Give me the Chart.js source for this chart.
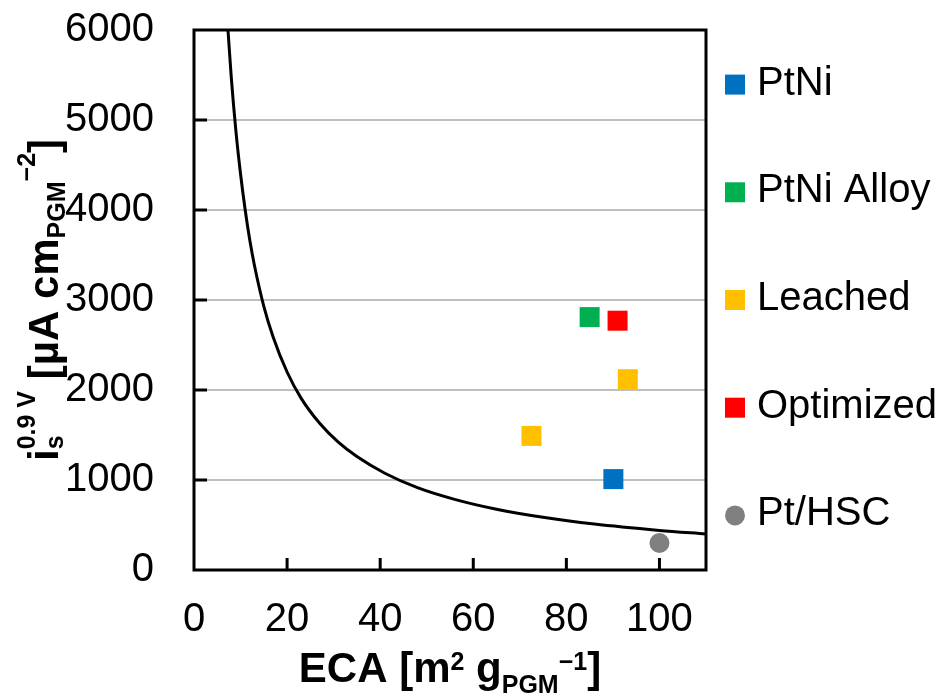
<!DOCTYPE html>
<html>
<head>
<meta charset="utf-8">
<script src="https://cdn.jsdelivr.net/npm/chart.js@4/dist/chart.umd.min.js"></script>
<style>
  html, body { margin: 0; padding: 0; background: #fff; }
</style>
</head>
<body>
<canvas id="grafico" width="949" height="693"></canvas>
<script>
// curva di riferimento
const curvaEca = [7.3, 8, 9, 10, 11, 12, 13, 15, 17, 20, 23, 27, 31, 35, 41, 48, 56, 65, 75, 86, 100, 110];
const curvaAttivita = [6000, 5480, 4880, 4400, 4000, 3660, 3380, 2930, 2590, 2200, 1910, 1630, 1420, 1260, 1075, 915, 785, 675, 585, 510, 440, 400];

// serie di punti
const serieNomi = ['PtNi', 'PtNi Alloy', 'Leached', 'Optimized', 'Pt/HSC'];
const serieColori = ['#0070C0', '#00B050', '#FFC000', '#FF0000', '#808080'];
const serieForme = ['rect', 'rect', 'rect', 'rect', 'circle'];
const ecaPtNi = [90.1];
const attPtNi = [1010];
const ecaAlloy = [85.0];
const attAlloy = [2810];
const ecaLeached = [72.5, 93.2];
const attLeached = [1490, 2120];
const ecaOptimized = [91.0];
const attOptimized = [2770];
const ecaPtHsc = [100];
const attPtHsc = [300];

const ticksX = [0, 20, 40, 60, 80, 100];
const ticksY = [0, 1000, 2000, 3000, 4000, 5000, 6000];

const serieEca = [ecaPtNi, ecaAlloy, ecaLeached, ecaOptimized, ecaPtHsc];
const serieAtt = [attPtNi, attAlloy, attLeached, attOptimized, attPtHsc];

const FONT = '"Liberation Sans", Arial, sans-serif';

function punti(xs, ys) {
    return xs.map((v, i) => ({ x: v, y: ys[i] }));
}

// testo con pedici e apici: [testo, dimensione, spostamento, nonAvanzare]
function scriviRicco(ctx, pezzi, cx, cy) {
    let totale = 0;
    pezzi.forEach(p => {
        ctx.font = 'bold ' + p[1] + 'px ' + FONT;
        if (!p[3]) totale += ctx.measureText(p[0]).width;
    });
    let x = cx - totale / 2;
    ctx.textAlign = 'left';
    ctx.textBaseline = 'alphabetic';
    pezzi.forEach(p => {
        ctx.font = 'bold ' + p[1] + 'px ' + FONT;
        ctx.fillText(p[0], x, cy + p[2]);
        if (!p[3]) x += ctx.measureText(p[0]).width;
    });
}

const cornice = {
    id: 'cornice',
    afterDatasetsDraw(chart) {
        const { ctx, chartArea: a, scales: { x, y } } = chart;
        ctx.save();
        ctx.strokeStyle = '#000';
        ctx.lineWidth = 3;
        ctx.beginPath();
        ticksX.forEach(v => {
            if (v <= 0) return;
            const px = x.getPixelForValue(v);
            ctx.moveTo(px, a.bottom);
            ctx.lineTo(px, a.bottom - 12);
        });
        ticksY.forEach(v => {
            if (v <= 0 || v >= 6000) return;
            const py = y.getPixelForValue(v);
            ctx.moveTo(a.left, py);
            ctx.lineTo(a.left + 13, py);
        });
        ctx.stroke();
        ctx.strokeRect(a.left, a.top, a.right - a.left, a.bottom - a.top);
        ctx.restore();
    },
    afterDraw(chart) {
        const { ctx, chartArea: a } = chart;
        ctx.save();
        ctx.fillStyle = '#000';

        // titolo asse x
        scriviRicco(ctx, [
            ['ECA [m', 42, 0], ['2', 25, -12], [' g', 42, 0],
            ['PGM', 25, 11], ['\u22121', 25, -12], [']', 42, 0]
        ], (a.left + a.right) / 2, 682);

        // titolo asse y
        ctx.translate(58, (a.top + a.bottom) / 2);
        ctx.rotate(-Math.PI / 2);
        scriviRicco(ctx, [
            ['i', 42, 0], ['s', 25, 5, true], ['0.9 V', 25, -23], [' [\u00b5A cm', 42, 0],
            ['PGM', 25, 7], ['\u22122', 25, -23], [']', 42, 0]
        ], 0, 0);
        ctx.restore();

        // legenda
        ctx.save();
        const centro = (a.top + a.bottom) / 2;
        serieNomi.forEach((nome, i) => {
            const yy = centro + (i - 2) * 107.7;
            ctx.fillStyle = serieColori[i];
            if (serieForme[i] === 'circle') {
                ctx.beginPath();
                ctx.arc(735, yy, 10, 0, Math.PI * 2);
                ctx.fill();
            } else {
                ctx.fillRect(725, yy - 10, 20, 20);
            }
            ctx.fillStyle = '#000';
            ctx.font = '40px ' + FONT;
            ctx.textAlign = 'left';
            ctx.textBaseline = 'middle';
            ctx.fillText(nome, 757, yy - 1);
        });
        ctx.restore();
    }
};

const datasets = [{
    label: 'curva',
    type: 'line',
    data: punti(curvaEca, curvaAttivita),
    borderColor: '#000',
    borderWidth: 3,
    pointRadius: 0,
    cubicInterpolationMode: 'monotone',
    fill: false
}];
serieNomi.forEach((nome, i) => {
    datasets.push({
        label: nome,
        data: punti(serieEca[i], serieAtt[i]),
        backgroundColor: serieColori[i],
        borderWidth: 0,
        pointStyle: serieForme[i],
        pointRadius: serieForme[i] === 'circle' ? 10 : 14.14,
        pointHoverRadius: serieForme[i] === 'circle' ? 10 : 14.14
    });
});

new Chart(document.getElementById('grafico').getContext('2d'), {
    type: 'scatter',
    data: { datasets: datasets },
    plugins: [cornice],
    options: {
        responsive: false,
        animation: false,
        devicePixelRatio: 1,
        layout: { padding: { left: 0, top: 30, right: 243, bottom: 0 } },
        plugins: { legend: { display: false }, tooltip: { enabled: false } },
        scales: {
            x: {
                type: 'linear',
                min: 0,
                max: 110,
                afterBuildTicks(scale) { scale.ticks = ticksX.map(v => ({ value: v })); },
                afterFit(scale) { scale.height = 123; scale.paddingLeft = 0; scale.paddingRight = 0; },
                grid: { display: false, drawTicks: false },
                border: { display: false },
                ticks: { color: '#000', padding: 26, font: { family: FONT, size: 40 }, callback: v => String(v) }
            },
            y: {
                type: 'linear',
                min: 0,
                max: 6000,
                afterBuildTicks(scale) { scale.ticks = ticksY.map(v => ({ value: v })); },
                afterFit(scale) { scale.width = 194; scale.paddingTop = 0; scale.paddingBottom = 0; },
                grid: { color: '#BFBFBF', lineWidth: 2, drawTicks: false },
                border: { display: false },
                ticks: { color: '#000', padding: 40, font: { family: FONT, size: 40 }, callback: v => String(v) }
            }
        }
    }
});
</script>
</body>
</html>
